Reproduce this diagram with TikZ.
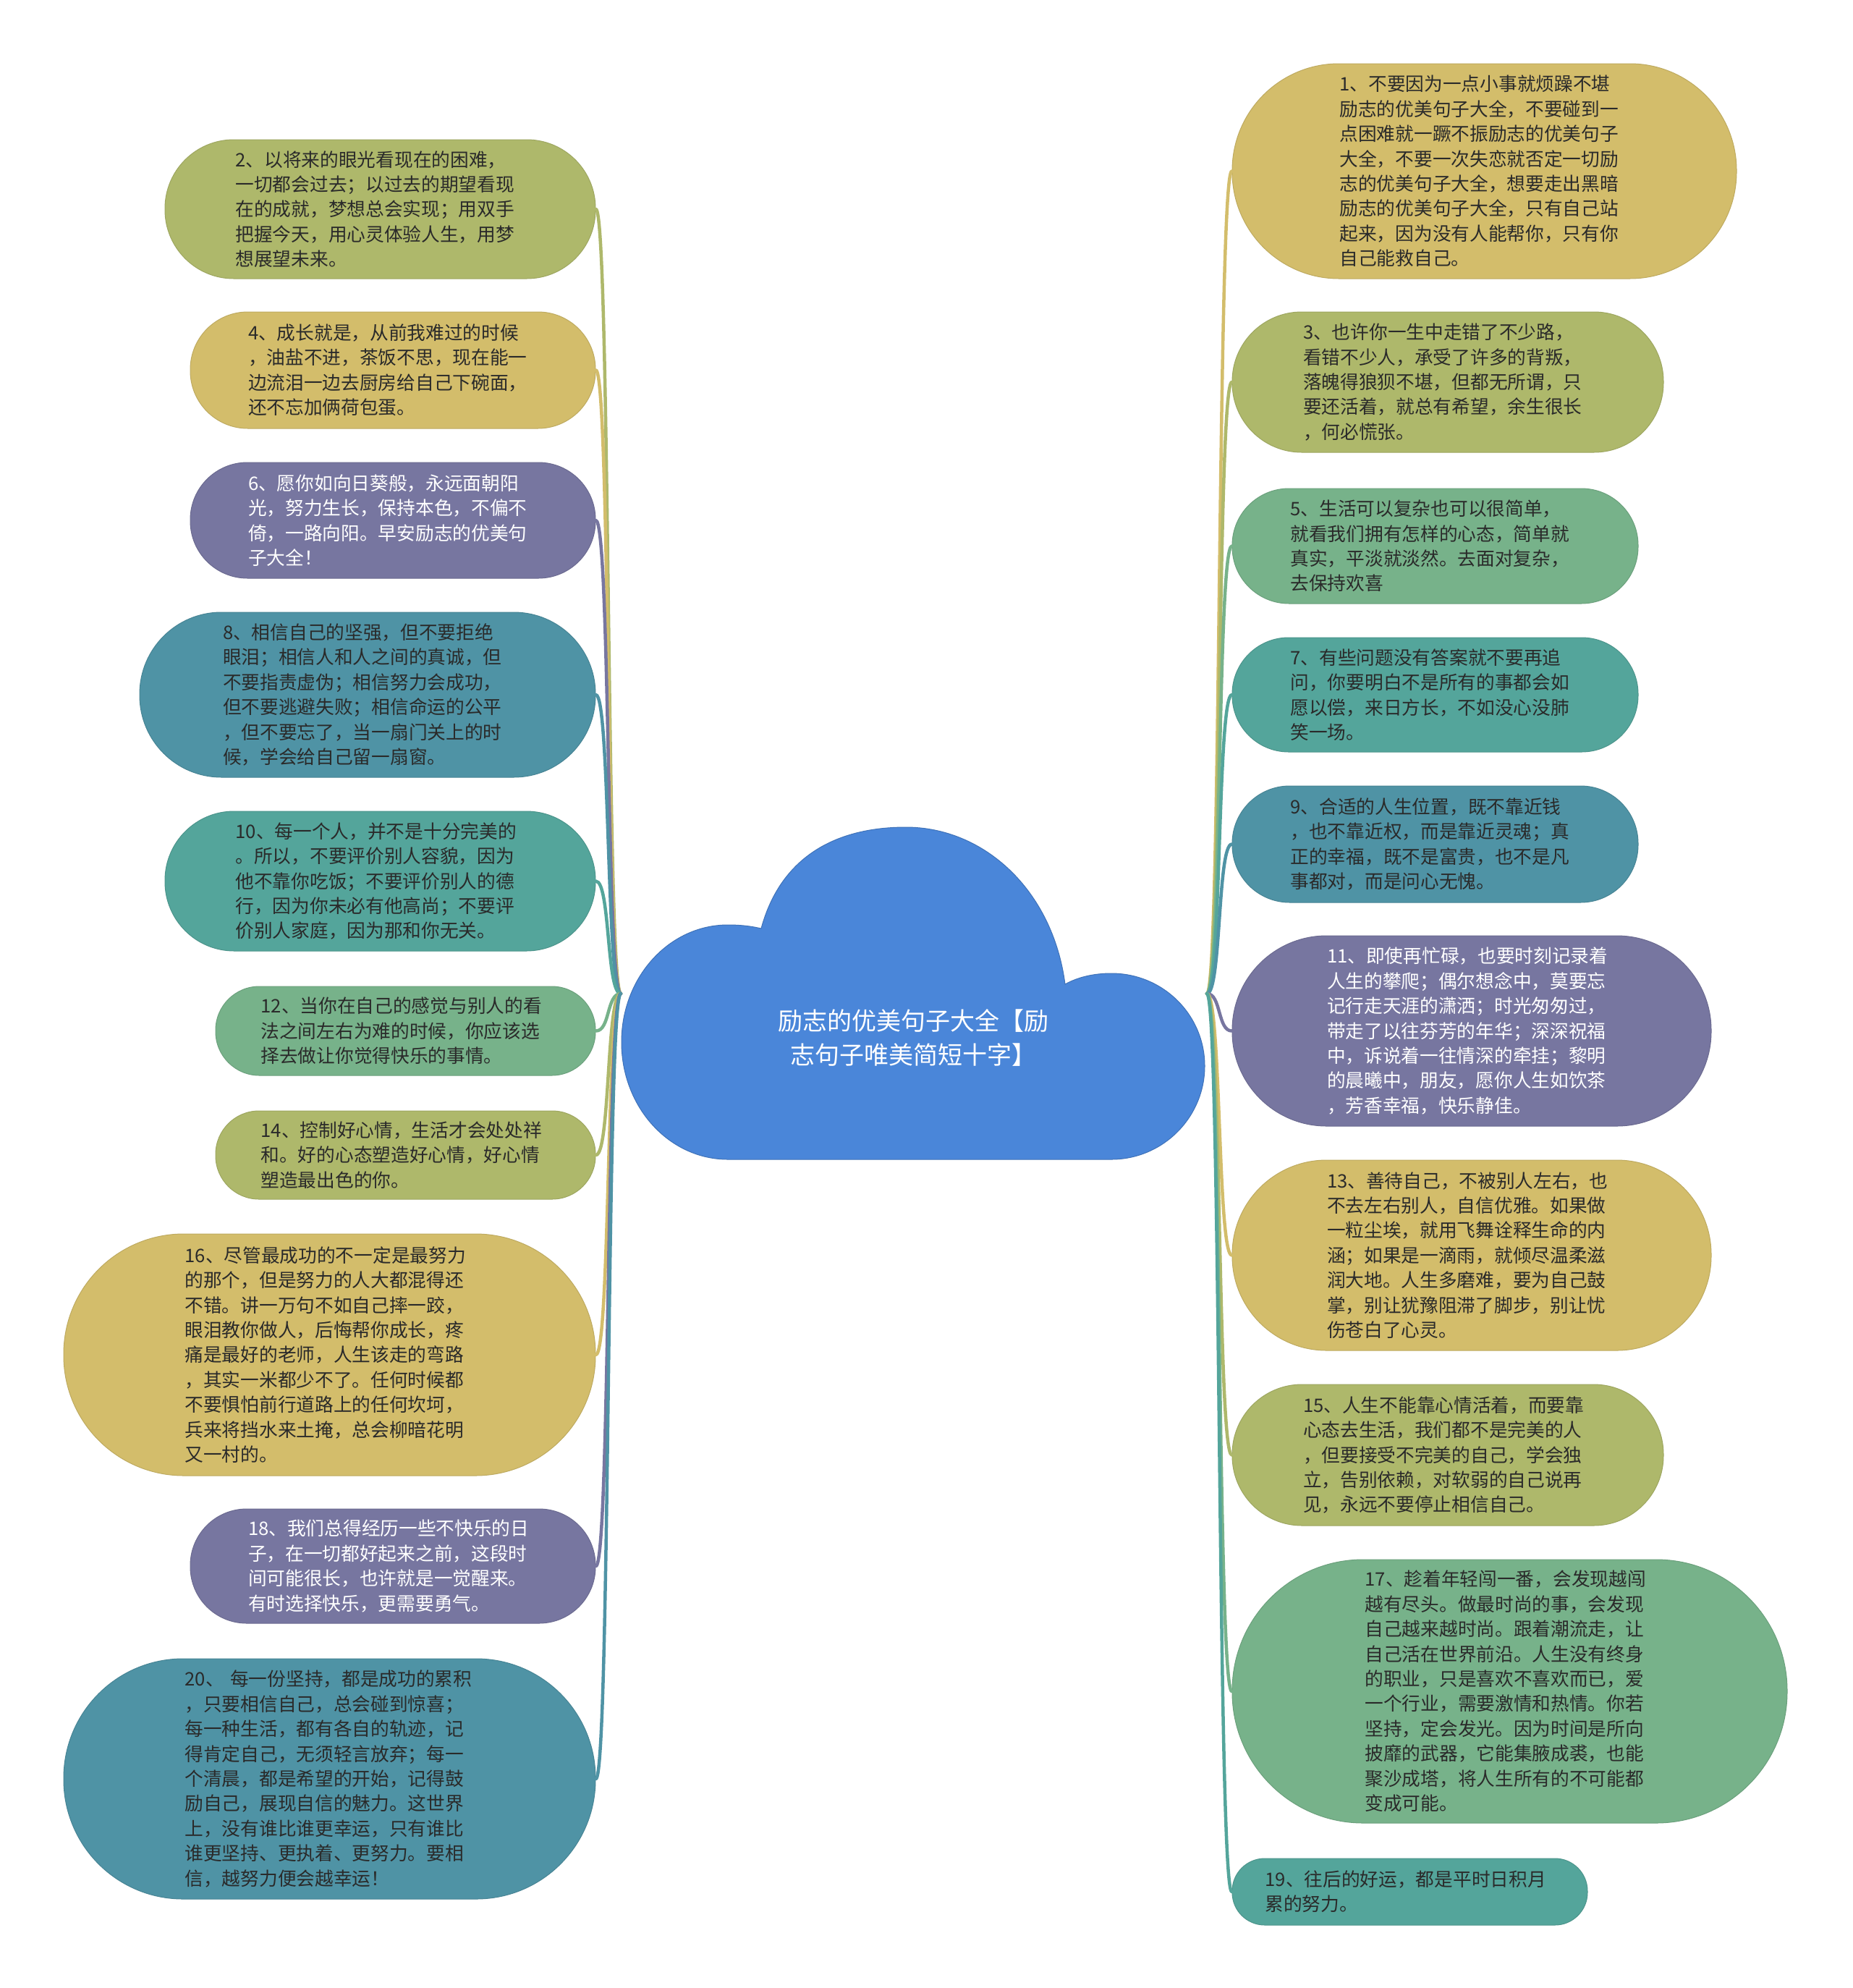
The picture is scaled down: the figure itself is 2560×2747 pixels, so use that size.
\documentclass[tikz,border=0pt]{standalone}
\usepackage{fontspec}
\newfontfamily\cjk{Noto Sans CJK SC}
\definecolor{gold}{HTML}{D3BD6B}
\definecolor{olive}{HTML}{AEB86B}
\definecolor{purp}{HTML}{7776A0}
\definecolor{tealblue}{HTML}{4F93A5}
\definecolor{teal}{HTML}{54A59B}
\definecolor{green}{HTML}{77B28A}
\definecolor{cloudblue}{HTML}{4A86D9}
\definecolor{txt}{HTML}{2A2A2A}
\tikzset{
  base/.style={font=\cjk\fontsize{25.7}{34.4}\selectfont, text width=400pt, align=left, inner sep=4pt, text=txt, line width=1pt},
  pill/.style n args={3}{base, fill=#1, draw=#1!90!black, minimum width=#2, minimum height=#3, rounded corners=#3/2-1},
  light/.style={text=white},
  link/.style={line width=4.5pt, line cap=round},
}
\begin{document}
\begin{tikzpicture}[x=1pt,y=-1pt]
\useasboundingbox (0,0) rectangle (2560,2747);
\fill[white] (0,0) rectangle (2560,2747);
% central cloud
\filldraw[fill=cloudblue, draw=cloudblue!85!black, line width=1pt]
  (1052,1283) .. controls (1080,1180) and (1160,1143) .. (1252,1143)
  .. controls (1360,1143) and (1455,1230) .. (1472,1360)
  .. controls (1490,1350) and (1512,1345) .. (1536,1345)
  .. controls (1607,1345) and (1665,1402) .. (1665,1473)
  .. controls (1665,1544) and (1607,1602) .. (1536,1602)
  -- (1006,1602)
  .. controls (925,1602) and (859,1530) .. (859,1440)
  .. controls (859,1350) and (925,1278) .. (1006,1278)
  .. controls (1020,1278) and (1035,1279) .. (1052,1283) -- cycle;
\node[font=\cjk\fontsize{34}{47}\selectfont, text=white, align=center] (root) at (1262,1434) {励志的优美句子大全【励\\志句子唯美简短十字】};
\coordinate (cl) at (858,1373);
\coordinate (cr) at (1668,1373);
% right side
\node[pill={gold}{697}{297}] (n1) at (2051.5,236.5) {1、不要因为一点小事就烦躁不堪\\励志的优美句子大全，不要碰到一\\点困难就一蹶不振励志的优美句子\\大全，不要一次失恋就否定一切励\\志的优美句子大全，想要走出黑暗\\励志的优美句子大全，只有自己站\\起来，因为没有人能帮你，只有你\\自己能救自己。};
\node[pill={olive}{596}{194}] (n3) at (2001,528) {3、也许你一生中走错了不少路，\\看错不少人，承受了许多的背叛，\\落魄得狼狈不堪，但都无所谓，只\\要还活着，就总有希望，余生很长\\，何必慌张。};
\node[pill={green}{561}{159}] (n5) at (1983.5,754.5) {5、生活可以复杂也可以很简单，\\就看我们拥有怎样的心态，简单就\\真实，平淡就淡然。去面对复杂，\\去保持欢喜};
\node[pill={teal}{561}{158}] (n7) at (1983.5,960) {7、有些问题没有答案就不要再追\\问，你要明白不是所有的事都会如\\愿以偿，来日方长，不如没心没肺\\笑一场。};
\node[pill={tealblue}{561}{161}] (n9) at (1983.5,1166.5) {9、合适的人生位置，既不靠近钱\\，也不靠近权，而是靠近灵魂；真\\正的幸福，既不是富贵，也不是凡\\事都对，而是问心无愧。};
\node[pill={purp}{662}{263}, light] (n11) at (2034,1424.5) {11、即使再忙碌，也要时刻记录着\\人生的攀爬；偶尔想念中，莫要忘\\记行走天涯的潇洒；时光匆匆过，\\带走了以往芬芳的年华；深深祝福\\中，诉说着一往情深的牵挂；黎明\\的晨曦中，朋友，愿你人生如饮茶\\，芳香幸福，快乐静佳。};
\node[pill={gold}{662}{263}] (n13) at (2034,1734.5) {13、善待自己，不被别人左右，也\\不去左右别人，自信优雅。如果做\\一粒尘埃，就用飞舞诠释生命的内\\涵；如果是一滴雨，就倾尽温柔滋\\润大地。人生多磨难，要为自己鼓\\掌，别让犹豫阻滞了脚步，别让忧\\伤苍白了心灵。};
\node[pill={olive}{596}{195}] (n15) at (2001,2010.5) {15、人生不能靠心情活着，而要靠\\心态去生活，我们都不是完美的人\\，但要接受不完美的自己，学会独\\立，告别依赖，对软弱的自己说再\\见，永远不要停止相信自己。};
\node[pill={green}{767}{364}] (n17) at (2086.5,2337) {17、趁着年轻闯一番，会发现越闯\\越有尽头。做最时尚的事，会发现\\自己越来越时尚。跟着潮流走，让\\自己活在世界前沿。人生没有终身\\的职业，只是喜欢不喜欢而已，爱\\一个行业，需要激情和热情。你若\\坚持，定会发光。因为时间是所向\\披靡的武器，它能集腋成裘，也能\\聚沙成塔，将人生所有的不可能都\\变成可能。};
\node[pill={teal}{491}{92}] (n19) at (1948.5,2614) {19、往后的好运，都是平时日积月\\累的努力。};
% left side
\node[pill={olive}{595}{192}] (n2) at (525.5,289) {2、以将来的眼光看现在的困难，\\一切都会过去；以过去的期望看现\\在的成就，梦想总会实现；用双手\\把握今天，用心灵体验人生，用梦\\想展望未来。};
\node[pill={gold}{560}{161}] (n4) at (543,511.5) {4、成长就是，从前我难过的时候\\，油盐不进，茶饭不思，现在能一\\边流泪一边去厨房给自己下碗面，\\还不忘加俩荷包蛋。};
\node[pill={purp}{560}{160}, light] (n6) at (543,719) {6、愿你如向日葵般，永远面朝阳\\光，努力生长，保持本色，不偏不\\倚，一路向阳。早安励志的优美句\\子大全！};
\node[pill={tealblue}{630}{228}] (n8) at (508,960) {8、相信自己的坚强，但不要拒绝\\眼泪；相信人和人之间的真诚，但\\不要指责虚伪；相信努力会成功，\\但不要逃避失败；相信命运的公平\\，但不要忘了，当一扇门关上的时\\候，学会给自己留一扇窗。};
\node[pill={teal}{595}{193}] (n10) at (525.5,1217.5) {10、每一个人，并不是十分完美的\\。所以，不要评价别人容貌，因为\\他不靠你吃饭；不要评价别人的德\\行，因为你未必有他高尚；不要评\\价别人家庭，因为那和你无关。};
\node[pill={green}{525}{123}] (n12) at (560.5,1424.5) {12、当你在自己的感觉与别人的看\\法之间左右为难的时候，你应该选\\择去做让你觉得快乐的事情。};
\node[pill={olive}{525}{122}] (n14) at (560.5,1596) {14、控制好心情，生活才会处处祥\\和。好的心态塑造好心情，好心情\\塑造最出色的你。};
\node[pill={gold}{735}{334}] (n16) at (455.5,1872) {16、尽管最成功的不一定是最努力\\的那个，但是努力的人大都混得还\\不错。讲一万句不如自己摔一跤，\\眼泪教你做人，后悔帮你成长，疼\\痛是最好的老师，人生该走的弯路\\，其实一米都少不了。任何时候都\\不要惧怕前行道路上的任何坎坷，\\兵来将挡水来土掩，总会柳暗花明\\又一村的。};
\node[pill={purp}{560}{158}, light] (n18) at (543,2164) {18、我们总得经历一些不快乐的日\\子，在一切都好起来之前，这段时\\间可能很长，也许就是一觉醒来。\\有时选择快乐，更需要勇气。};
\node[pill={tealblue}{735}{332}] (n20) at (455.5,2458) {20、 每一份坚持，都是成功的累积\\，只要相信自己，总会碰到惊喜；\\每一种生活，都有各自的轨迹，记\\得肯定自己，无须轻言放弃；每一\\个清晨，都是希望的开始，记得鼓\\励自己，展现自信的魅力。这世界\\上，没有谁比谁更幸运，只有谁比\\谁更坚持、更执着、更努力。要相\\信，越努力便会越幸运！};
% connectors
\foreach \n/\c in {n2/olive,n4/gold,n6/purp,n8/tealblue,n10/teal,n12/green,n14/olive,n16/gold,n18/purp,n20/tealblue}
  \draw[link, draw=\c] (cl) .. controls +(-20,0) and +(20,0) .. (\n.east);
\foreach \n/\c in {n1/gold,n3/olive,n5/green,n7/teal,n9/tealblue,n11/purp,n13/gold,n15/olive,n17/green,n19/teal}
  \draw[link, draw=\c] (cr) .. controls +(20,0) and +(-20,0) .. (\n.west);
\end{tikzpicture}
\end{document}
